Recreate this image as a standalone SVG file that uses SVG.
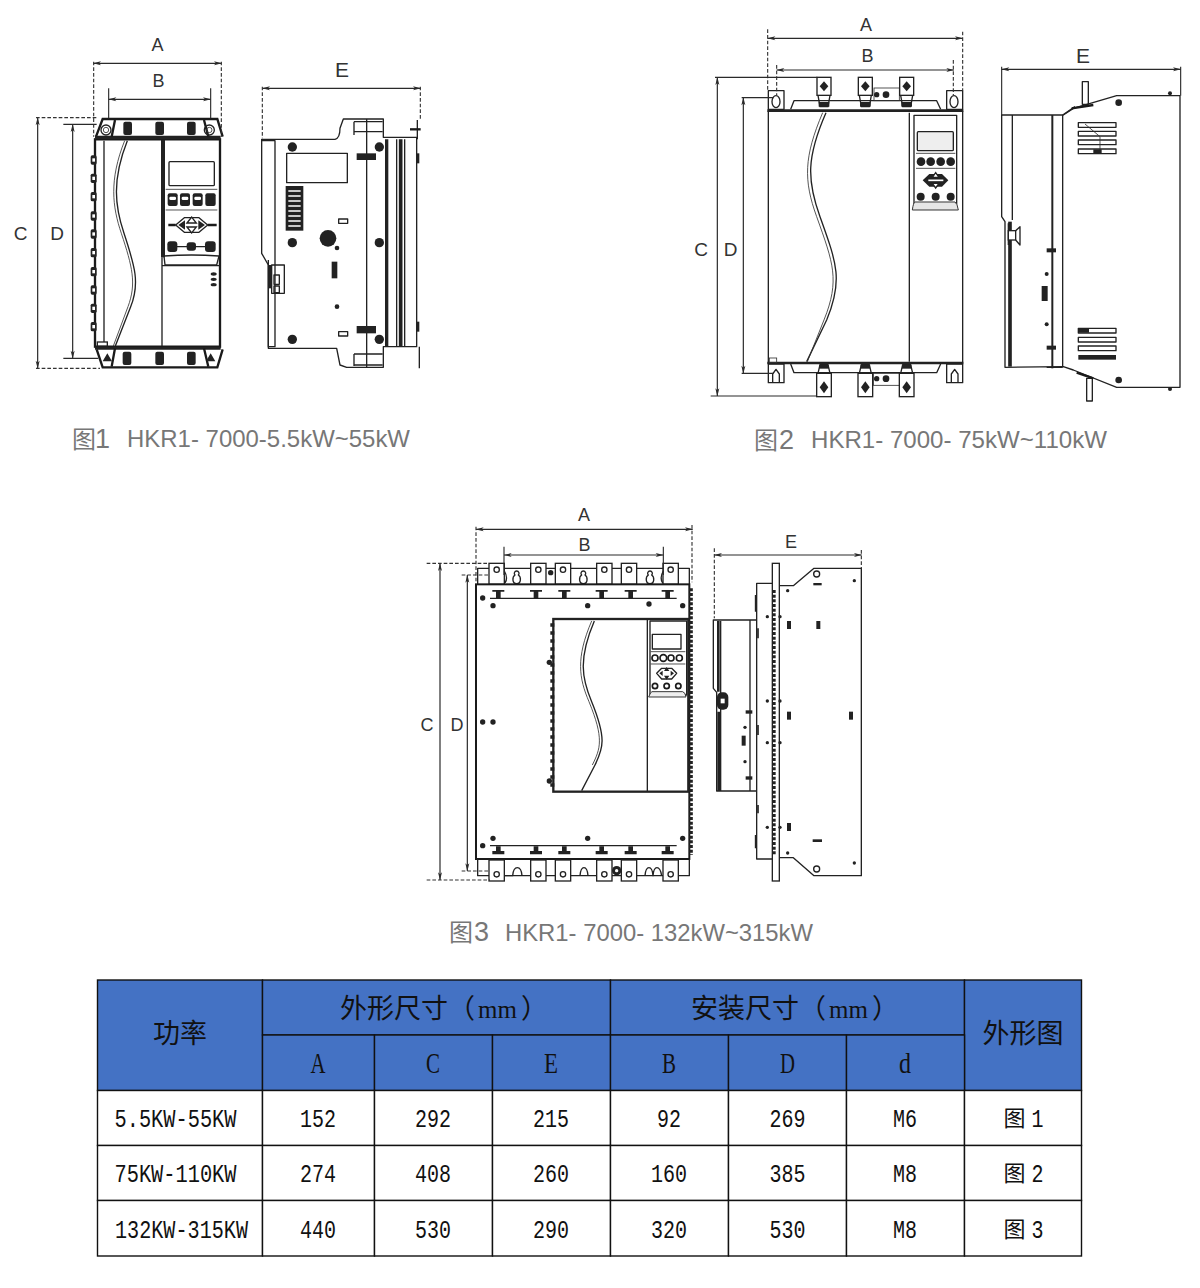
<svg xmlns="http://www.w3.org/2000/svg" width="1200" height="1288" viewBox="0 0 1200 1288">
<style>
.l{fill:none;stroke:#222;stroke-width:4;stroke-linejoin:round}
.t{fill:none;stroke:#333;stroke-width:2.5}
.h{fill:none;stroke:#1a1a1a;stroke-width:7}
.k{fill:#222;stroke:none}
.w{fill:#fff;stroke:#222;stroke-width:4}
.d{fill:none;stroke:#2a2a2a;stroke-width:3.6;marker-start:url(#a);marker-end:url(#b)}
.x{fill:none;stroke:#333;stroke-width:3.4;stroke-dasharray:11 6}
.s{fill:none;stroke:#2a2a2a;stroke-width:3.4}
.lab{font-family:"Liberation Sans",Arial,sans-serif;fill:#333;text-anchor:middle}
.cap{font-family:"Liberation Sans",Arial,sans-serif;font-size:24px;fill:#777}
.capc{font-family:"Noto Sans CJK SC",sans-serif;font-size:24px;fill:#777}
.cell{fill:#fff;stroke:#111;stroke-width:1.4}
.head{fill:#4472C4;stroke:#111;stroke-width:1.4}
.m{font-family:"Liberation Mono",monospace;font-size:26px;fill:#111;text-anchor:middle}
.mh{font-family:"Liberation Serif",serif;font-size:30px;fill:#111;text-anchor:middle}
.c{font-family:"Noto Sans CJK SC",sans-serif;font-size:27px;fill:#111;text-anchor:middle}
.cs{font-family:"Noto Sans CJK SC",sans-serif;font-size:27px;fill:#111}
.mm{font-family:"Liberation Serif",serif;font-size:25px}
.c2{font-family:"Noto Sans CJK SC",sans-serif;font-size:22px;fill:#111;text-anchor:middle}
</style>
<defs>
<marker id="a" markerUnits="userSpaceOnUse" markerWidth="26" markerHeight="14" refX="1" refY="7" orient="auto"><path d="M0,7L24,1L18,7L24,13Z" fill="#2a2a2a"/></marker>
<marker id="b" markerUnits="userSpaceOnUse" markerWidth="26" markerHeight="14" refX="25" refY="7" orient="auto"><path d="M26,7L2,1L8,7L2,13Z" fill="#2a2a2a"/></marker>
<g id="bolt"><rect x="-9" y="-14" width="18" height="28" rx="5" class="k"/><rect x="-4" y="-5" width="8" height="10" fill="#fff"/></g>
<g id="term2"><rect x="-21" y="0" width="42" height="54" class="w"/><path d="M0,12L13,27L0,42L-13,27Z" class="k"/><path d="M-18,54L-12,88H12L18,54" class="l"/><rect x="-16" y="74" width="32" height="14" class="k"/></g>
<g id="term2b"><rect x="-22" y="26" width="44" height="70" class="w"/><path d="M0,50L13,68L0,86L-13,68Z" class="k"/><path d="M-18,26L-12,0H12L18,26" class="l"/><rect x="-14" y="0" width="28" height="12" class="k"/></g>
<g id="term3"><rect x="-23" y="0" width="46" height="63" class="w"/><circle cx="0" cy="19" r="8" class="l"/></g>
<g id="term3b"><rect x="-23" y="0" width="46" height="63" class="w"/><circle cx="0" cy="43" r="8" class="l"/></g>
<g id="clip"><path d="M-18,0H18V5H7V24H-7V5H-18Z" class="k"/></g>
<g id="clipb"><path d="M-18,24H18V14H7V0H-7V14H-18Z" class="k"/></g>
<g id="key"><path d="M0,-20A7,7 0 0 1 5,-8C14,-2 14,18 0,18C-14,18 -14,-2 -5,-8A7,7 0 0 1 0,-20Z" class="l"/></g>
<g id="nav"><path d="M-48,0L-22,-22H22L48,0L22,22H-22Z" class="l"/><path d="M-14,-6L0,-24L14,-6ZM-14,6L0,24L14,6Z" class="w"/><path d="M-40,0L-20,-14V14ZM40,0L20,-14V14Z" class="k"/></g>
</defs>

<g id="fig1-front" transform="translate(0,20) scale(.33333)">
<path d="M288,350L308,297H652L668,350" class="h"/>
<path d="M285,352H662" stroke="#222" stroke-width="9" fill="none"/>
<path d="M345,300L335,350M612,300L625,350" class="h"/>
<circle cx="318" cy="330" r="15" class="l"/><circle cx="318" cy="330" r="8" class="t"/>
<circle cx="628" cy="330" r="15" class="l"/><circle cx="628" cy="330" r="8" class="t"/>
<rect x="370" y="305" width="26" height="40" rx="6" class="k"/><rect x="466" y="305" width="26" height="40" rx="6" class="k"/><rect x="561" y="305" width="26" height="40" rx="6" class="k"/>
<rect x="285" y="358" width="375" height="622" class="h"/>
<use href="#bolt" x="281" y="420"/><use href="#bolt" x="281" y="475"/><use href="#bolt" x="281" y="530"/><use href="#bolt" x="281" y="588"/><use href="#bolt" x="281" y="642"/><use href="#bolt" x="281" y="698"/><use href="#bolt" x="281" y="755"/><use href="#bolt" x="281" y="810"/><use href="#bolt" x="281" y="865"/><use href="#bolt" x="281" y="920"/>
<path d="M312,362V972" class="l"/>
<path d="M382,362C335,480 345,560 372,640C405,740 420,790 392,860L346,978" class="l"/>
<path d="M374,362C327,480 337,560 364,640C397,740 410,790 384,860L340,978" class="t"/>
<path d="M489,360V712" stroke="#222" stroke-width="12" fill="none"/><path d="M486,712V978" class="l"/>
<rect x="507" y="425" width="136" height="72" rx="3" class="l"/>
<path d="M497,508H652M497,570H652" class="t"/>
<rect x="503" y="520" width="30" height="38" rx="6" class="k"/><rect x="540" y="520" width="30" height="38" rx="6" class="k"/><rect x="578" y="520" width="30" height="38" rx="6" class="k"/><rect x="616" y="520" width="31" height="38" rx="6" class="k"/>
<rect x="508" y="530" width="20" height="10" rx="4" fill="#fff"/><rect x="545" y="530" width="20" height="10" rx="4" fill="#fff"/><rect x="583" y="530" width="20" height="10" rx="4" fill="#fff"/>
<use href="#nav" x="575" y="615"/><path d="M505,615H527M623,615H650" class="h"/>
<path d="M518,680H630" class="l"/>
<rect x="502" y="664" width="30" height="32" rx="9" class="k"/><rect x="560" y="667" width="28" height="25" rx="9" class="k"/><rect x="615" y="664" width="32" height="32" rx="9" class="k"/>
<path d="M492,708Q575,702 657,708L650,735H495Z" class="l"/><path d="M486,737H660" class="l"/>
<ellipse cx="641" cy="762" rx="9" ry="5" class="k"/><ellipse cx="641" cy="778" rx="9" ry="5" class="k"/><ellipse cx="641" cy="794" rx="9" ry="5" class="k"/>
<rect x="292" y="966" width="30" height="12" class="w"/>
<path d="M290,988L308,1042H652L668,988" class="h"/>
<path d="M285,985H662" stroke="#222" stroke-width="8" fill="none"/>
<path d="M345,985L335,1040M612,985L625,1040" class="h"/>
<path d="M322,1000L308,1024H336ZM632,1000L618,1024H646Z" class="k"/>
<rect x="368" y="995" width="26" height="40" rx="6" class="k"/><rect x="466" y="995" width="26" height="40" rx="6" class="k"/><rect x="561" y="995" width="26" height="40" rx="6" class="k"/>
</g>

<g id="fig1-side" transform="translate(0,20) scale(.33333)">
<path d="M785,358H1005Q1020,355 1020,325L1030,297H1150V352H1250V980H1150V1042H1040L1020,1035L1010,985H805V735L785,700V358Z" class="l"/>
<path d="M805,720V980H825V362H785" class="l"/>
<path d="M1062,305H1148M1062,335H1148M1062,305V345M1100,297V1042M1062,1002H1148M1062,1035H1148M1062,1002V1038" class="l"/>
<path d="M1160,358V980" stroke="#222" stroke-width="10" fill="none"/><path d="M1190,358V980M1214,358V980" class="l"/><path d="M1202,358V980" stroke="#222" stroke-width="11" fill="none"/>
<path d="M1252,300V358M1258,980V1045" class="l"/><path d="M1230,328H1262" class="h"/><rect x="1248" y="400" width="10" height="30" class="k"/><rect x="1248" y="905" width="10" height="30" class="k"/>
<circle cx="877" cy="381" r="14" class="k"/><circle cx="1138" cy="381" r="14" class="k"/><circle cx="877" cy="668" r="14" class="k"/><circle cx="1138" cy="668" r="14" class="k"/><circle cx="877" cy="958" r="14" class="k"/><circle cx="1138" cy="958" r="14" class="k"/>
<circle cx="984" cy="655" r="25" class="k"/><circle cx="1011" cy="684" r="7" class="k"/><circle cx="1011" cy="860" r="7" class="k"/>
<rect x="860" y="400" width="182" height="88" class="l"/>
<rect x="857" y="498" width="53" height="134" class="k"/>
<path d="M865,513H902M865,528H902M865,543H902M865,558H902M865,573H902M865,588H902M865,603H902M865,618H902" stroke="#fff" stroke-width="5" fill="none"/>
<rect x="1016" y="597" width="27" height="13" class="l"/><rect x="1016" y="935" width="27" height="13" class="l"/>
<rect x="995" y="725" width="17" height="50" class="k"/>
<rect x="1070" y="400" width="58" height="20" class="k"/><rect x="1070" y="918" width="58" height="22" class="k"/>
<rect x="815" y="735" width="38" height="85" class="l"/><rect x="822" y="765" width="16" height="28" class="l"/><rect x="822" y="798" width="16" height="20" class="l"/><rect x="804" y="735" width="12" height="70" class="k"/>
</g>

<g id="fig2-front" transform="translate(680,0) scale(.33333)">
<rect x="265" y="272" width="47" height="56" class="l"/><rect x="800" y="272" width="48" height="56" class="l"/>
<ellipse cx="288" cy="305" rx="12" ry="18" class="l"/><ellipse cx="822" cy="305" rx="12" ry="18" class="l"/>
<path d="M332,328L342,302H770L782,328" class="l"/>
<rect x="582" y="264" width="76" height="38" class="t"/><circle cx="590" cy="284" r="8" class="k"/><circle cx="618" cy="284" r="10" class="k"/>
<use href="#term2" x="432" y="232"/><use href="#term2" x="556" y="232"/><use href="#term2" x="680" y="232"/>
<rect x="265" y="333" width="583" height="757" class="l"/>
<path d="M262,332H850M262,1089H850" stroke="#222" stroke-width="8" fill="none"/>
<path d="M438,338C380,470 380,540 420,650C470,790 490,840 440,960L380,1085" class="l"/>
<path d="M428,338C372,470 370,540 410,650C460,790 480,840 432,960L382,1085" class="t"/>
<path d="M688,338V1085" class="l"/>
<path d="M702,346H830V612H702Z" class="l"/>
<rect x="712" y="395" width="108" height="57" rx="3" class="l" style="fill:#eee"/>
<path d="M708,460H826M708,505H826" class="t"/>
<circle cx="723" cy="485" r="13" class="k"/><circle cx="752" cy="485" r="13" class="k"/><circle cx="782" cy="485" r="13" class="k"/><circle cx="812" cy="485" r="13" class="k"/>
<path d="M728,541L748,522H786L805,541L786,560H748Z" class="k"/><path d="M757,532L767,518L777,532ZM757,550L767,564L777,550Z" class="w"/><path d="M745,541H790" stroke="#fff" stroke-width="5"/>
<circle cx="722" cy="590" r="12" class="k"/><circle cx="767" cy="590" r="12" class="k"/><circle cx="812" cy="590" r="12" class="k"/>
<path d="M697,630Q700,608 705,606H825Q832,610 835,630Z" fill="#e6e6e6" stroke="#333" stroke-width="3"/>
<rect x="268" y="1074" width="22" height="14" class="t"/>
<rect x="265" y="1092" width="47" height="56" class="l"/><rect x="800" y="1092" width="48" height="56" class="l"/>
<path d="M278,1148V1122L288,1108L298,1122V1148M814,1148V1122L824,1108L834,1122V1148" class="l"/>
<path d="M332,1092L342,1118H770L782,1092" class="l"/>
<rect x="580" y="1120" width="80" height="36" class="t"/><circle cx="590" cy="1136" r="8" class="k"/><circle cx="618" cy="1136" r="10" class="k"/>
<use href="#term2b" x="432" y="1094"/><use href="#term2b" x="556" y="1094"/><use href="#term2b" x="680" y="1094"/>
</g>

<g id="fig2-side" transform="translate(680,0) scale(.33333)">
<path d="M965,345H1150L1180,325L1310,287H1500V1162H1310L1180,1110L1150,1100L975,1102V665L965,650Z" class="l"/>
<path d="M997,345V660M1148,345V1100M1148,345L1185,320M1100,1102H1148" class="l"/>
<path d="M1117,345V1105" stroke="#222" stroke-width="6" fill="none"/><path d="M990,665V1100" stroke="#222" stroke-width="11" fill="none"/>
<rect x="1207" y="245" width="18" height="68" class="l"/><rect x="1220" y="1135" width="17" height="68" class="l"/>
<path d="M1175,325L1240,315M1190,1118L1240,1135" class="h"/>
<circle cx="1316" cy="308" r="10" class="k"/><circle cx="1316" cy="1140" r="10" class="k"/><circle cx="1470" cy="280" r="6" class="k"/><circle cx="1470" cy="1167" r="6" class="k"/>
<rect x="1195" y="368" width="113" height="14" class="l"/><rect x="1195" y="394" width="113" height="14" class="l"/><rect x="1195" y="420" width="113" height="14" class="l"/><rect x="1195" y="447" width="113" height="14" class="l"/>
<path d="M1215,372L1260,410V460" class="t"/><rect x="1240" y="448" width="25" height="12" class="k"/>
<rect x="1195" y="985" width="113" height="14" class="l"/><rect x="1195" y="1012" width="113" height="14" class="l"/><rect x="1195" y="1038" width="113" height="14" class="l"/><rect x="1195" y="1065" width="113" height="14" class="k"/>
<rect x="1197" y="986" width="30" height="12" class="k"/>
<rect x="985" y="692" width="22" height="28" class="w"/><path d="M985,670V735M1007,692L1020,680V735L1007,720" class="l"/>
<rect x="1100" y="745" width="28" height="12" class="k"/><rect x="1100" y="1037" width="28" height="12" class="k"/>
<circle cx="1100" cy="822" r="6" class="k"/><circle cx="1100" cy="973" r="6" class="k"/>
<rect x="1085" y="858" width="18" height="45" class="k"/>
</g>

<g id="fig3-front" transform="translate(410,495) scale(.33333)">
<path d="M203,268V220H838V268" class="l"/>
<use href="#term3" x="260" y="205"/><use href="#term3" x="385" y="205"/><use href="#term3" x="459" y="205"/><use href="#term3" x="583" y="205"/><use href="#term3" x="657" y="205"/><use href="#term3" x="782" y="205"/>
<use href="#key" x="320" y="248"/><use href="#key" x="520" y="248"/><use href="#key" x="720" y="248"/>
<path d="M283,228Q295,248 285,264M760,228Q748,248 758,264" class="l"/>
<circle cx="422" cy="233" r="8" class="k"/>
<rect x="198" y="268" width="640" height="824" class="h" style="stroke-width:6"/>
<path d="M843,280V1080" stroke="#222" stroke-width="11" stroke-dasharray="9 5" fill="none"/>
<use href="#clip" x="265" y="285"/><use href="#clip" x="378" y="285"/><use href="#clip" x="463" y="285"/><use href="#clip" x="575" y="285"/><use href="#clip" x="662" y="285"/><use href="#clip" x="773" y="285"/>
<path d="M240,310H800M240,1052H800" stroke="#222" stroke-width="4" fill="none"/>
<circle cx="218" cy="309" r="8" class="k"/><circle cx="249" cy="332" r="8" class="k"/><circle cx="533" cy="332" r="8" class="k"/><circle cx="717" cy="327" r="8" class="k"/><circle cx="818" cy="332" r="8" class="k"/>
<circle cx="218" cy="681" r="8" class="k"/><circle cx="249" cy="681" r="8" class="k"/>
<circle cx="249" cy="1030" r="8" class="k"/><circle cx="533" cy="1030" r="8" class="k"/><circle cx="818" cy="1030" r="8" class="k"/><circle cx="218" cy="1052" r="8" class="k"/>
<use href="#clipb" x="265" y="1054"/><use href="#clipb" x="378" y="1054"/><use href="#clipb" x="463" y="1054"/><use href="#clipb" x="575" y="1054"/><use href="#clipb" x="662" y="1054"/><use href="#clipb" x="773" y="1054"/>
<path d="M203,1092V1142H838V1092" class="l"/>
<path d="M283,1142H308Q310,1118 322,1118Q334,1118 336,1142M510,1142Q512,1118 522,1118Q532,1118 534,1142M705,1142Q707,1118 717,1118Q727,1118 729,1142Q731,1118 741,1118Q751,1118 755,1142" class="l"/>
<use href="#term3b" x="260" y="1095"/><use href="#term3b" x="385" y="1095"/><use href="#term3b" x="459" y="1095"/><use href="#term3b" x="583" y="1095"/><use href="#term3b" x="657" y="1095"/><use href="#term3b" x="782" y="1095"/>
<circle cx="620" cy="1127" r="14" class="k"/><circle cx="620" cy="1127" r="5" fill="#fff"/>
<rect x="430" y="372" width="405" height="518" class="w" style="stroke-width:7"/>
<path d="M427,385V880" stroke="#222" stroke-width="12" stroke-dasharray="10 14" fill="none"/><circle cx="418" cy="502" r="8" class="k"/><circle cx="418" cy="858" r="8" class="k"/>
<path d="M712,374V888" class="l"/>
<path d="M553,378C505,490 515,550 545,620C590,730 580,760 555,810L515,887" class="l"/>
<path d="M545,378C497,490 507,550 537,620C582,730 572,760 547,810" class="t"/>
<path d="M720,378H830V600H720Z" class="l"/>
<rect x="727" y="418" width="86" height="44" class="l"/>
<path d="M722,470H826M722,507H826" class="t"/>
<circle cx="735" cy="489" r="9" class="h" style="stroke-width:5"/><circle cx="760" cy="489" r="10" class="h" style="stroke-width:5"/><circle cx="783" cy="489" r="9" class="h" style="stroke-width:5"/><circle cx="808" cy="489" r="9" class="h" style="stroke-width:5"/>
<path d="M740,535L755,520H785L800,535L785,552H755Z" class="l"/><path d="M762,528L770,516L778,528ZM762,542L770,554L778,542ZM748,535L758,527V543ZM792,535L782,527V543Z" class="k"/>
<circle cx="735" cy="573" r="8" class="h" style="stroke-width:5"/><circle cx="770" cy="573" r="8" class="h" style="stroke-width:5"/><circle cx="805" cy="573" r="8" class="h" style="stroke-width:5"/>
<path d="M716,606Q722,590 726,590H818Q826,592 828,606Z" fill="#eee" stroke="#333" stroke-width="3"/>
</g>

<g id="fig3-side" transform="translate(410,495) scale(.33333)">
<path d="M1040,375H910V580L920,592V888H1040" class="l"/>
<path d="M1020,375V888M932,378V888" class="l"/><path d="M925,378V590M926,650V888" stroke="#222" stroke-width="8" fill="none"/>
<rect x="921" y="592" width="34" height="52" rx="14" class="k"/><rect x="932" y="611" width="12" height="14" fill="#fff"/>
<rect x="1007" y="646" width="20" height="10" class="k"/><rect x="1007" y="844" width="20" height="10" class="k"/>
<circle cx="1005" cy="697" r="5" class="k"/><circle cx="1005" cy="800" r="5" class="k"/><rect x="995" y="722" width="12" height="30" class="k"/>
<rect x="1040" y="265" width="50" height="827" class="l"/>
<path d="M1037,300V350M1044,400V430M1044,690V720M1044,930V955M1037,1020V1060" stroke="#222" stroke-width="5" fill="none"/>
<rect x="1087" y="205" width="21" height="953" class="w"/>
<path d="M1092,285V1082" stroke="#222" stroke-width="10" stroke-dasharray="9 5" fill="none"/>
<path d="M1108,272H1150L1212,220H1354V1142H1212L1150,1088H1108" class="l"/>
<circle cx="1220" cy="237" r="9" class="l"/><circle cx="1220" cy="1122" r="9" class="l"/>
<circle cx="1133" cy="287" r="5" class="k"/><circle cx="1333" cy="257" r="5" class="k"/><circle cx="1133" cy="1074" r="5" class="k"/><circle cx="1333" cy="1104" r="5" class="k"/>
<circle cx="1072" cy="365" r="5" class="k"/><circle cx="1110" cy="365" r="5" class="k"/><circle cx="1072" cy="618" r="5" class="k"/><circle cx="1110" cy="618" r="5" class="k"/><circle cx="1072" cy="743" r="5" class="k"/><circle cx="1110" cy="743" r="5" class="k"/><circle cx="1072" cy="997" r="5" class="k"/><circle cx="1110" cy="997" r="5" class="k"/>
<rect x="1131" y="378" width="12" height="24" class="k"/><rect x="1219" y="378" width="12" height="24" class="k"/><rect x="1131" y="650" width="12" height="24" class="k"/><rect x="1317" y="650" width="12" height="24" class="k"/><rect x="1131" y="984" width="12" height="24" class="k"/>
<rect x="1210" y="264" width="25" height="7" class="k"/><rect x="1208" y="1033" width="28" height="8" class="k"/>
</g>

<g id="connectors">
<g transform="translate(0,20) scale(.33333)">
<path d="M280,130H665" class="d"/><path d="M326,238H632" class="d"/><path d="M113,293V1045" class="d"/><path d="M218,313V1015" class="d"/><path d="M787,205H1262" class="d"/>
<path d="M281,125V350M664,125V350M787,200V355M1261,200V300M108,293H290M108,1045H300" class="x"/>
<path d="M326,205V295M632,205V295M190,313H290M190,1015H295" class="s"/>
</g>
<g transform="translate(680,0) scale(.33333)">
<path d="M263,115H848" class="d"/><path d="M290,210H822" class="d"/><path d="M112,232V1188" class="d"/><path d="M190,293V1120" class="d"/><path d="M965,208H1502" class="d"/>
<path d="M263,88V272M848,95V272M290,195V285M820,180V285" class="x"/>
<path d="M105,232H412M92,1188H410M185,293H280M185,1120H280M965,200V345M1502,200V287" class="s"/>
</g>
<g transform="translate(410,495) scale(.33333)">
<path d="M198,103H848" class="d"/><path d="M282,180H760" class="d"/><path d="M90,205V1155" class="d"/><path d="M172,240V1128" class="d"/><path d="M913,180H1355" class="d"/>
<path d="M198,95V262M846,90V262M50,205H237M50,1155H240M155,240H240M155,1128H240M913,160V370M1354,165V220" class="x"/>
<path d="M282,155V240M760,155V240" class="s"/>
</g>
</g>

<g id="labels">
<text class="lab" x="157.500" y="51" font-size="18">A</text><text class="lab" x="158.500" y="87" font-size="18">B</text><text class="lab" x="20.500" y="240" font-size="19">C</text><text class="lab" x="57" y="240" font-size="19">D</text><text class="lab" x="342" y="77" font-size="21">E</text>
<text class="lab" x="866" y="31" font-size="18">A</text><text class="lab" x="867.500" y="62" font-size="18">B</text><text class="lab" x="701" y="256" font-size="19">C</text><text class="lab" x="730.500" y="256" font-size="19">D</text><text class="lab" x="1083" y="63" font-size="21">E</text>
<text class="lab" x="584" y="521" font-size="18">A</text><text class="lab" x="584.500" y="551" font-size="18">B</text><text class="lab" x="427" y="731" font-size="18">C</text><text class="lab" x="457" y="731" font-size="18">D</text><text class="lab" x="791" y="548" font-size="18">E</text>
<text class="capc" x="72" y="448">图</text><text class="cap" x="95" y="448" style="font-size:27px">1</text><text class="cap" x="127" y="447" textLength="283" lengthAdjust="spacingAndGlyphs">HKR1- 7000-5.5kW~55kW</text>
<text class="capc" x="754" y="449">图</text><text class="cap" x="779" y="449" style="font-size:27px">2</text><text class="cap" x="811" y="448" textLength="296" lengthAdjust="spacingAndGlyphs">HKR1- 7000- 75kW~110kW</text>
<text class="capc" x="449" y="941">图</text><text class="cap" x="474" y="941" style="font-size:27px">3</text><text class="cap" x="505" y="941" textLength="308" lengthAdjust="spacingAndGlyphs">HKR1- 7000- 132kW~315kW</text>
</g>

<g id="table">
<g id="header">
<rect class="head" x="97.500" y="980" width="165" height="110.500"/><rect class="head" x="262.500" y="980" width="348" height="55"/><rect class="head" x="610.500" y="980" width="354" height="55"/><rect class="head" x="964.500" y="980" width="117" height="110.500"/>
<rect class="head" x="262.500" y="1035" width="112" height="55.500"/><rect class="head" x="374.500" y="1035" width="118" height="55.500"/><rect class="head" x="492.500" y="1035" width="118" height="55.500"/><rect class="head" x="610.500" y="1035" width="118" height="55.500"/><rect class="head" x="728.500" y="1035" width="118" height="55.500"/><rect class="head" x="846.500" y="1035" width="118" height="55.500"/>
<text class="c" x="180" y="1043">功率</text><text class="c" x="1023" y="1043">外形图</text>
<text class="cs" x="340" y="1018">外形尺寸（<tspan class="mm" dx="3">mm</tspan><tspan dx="4">）</tspan></text>
<text class="cs" x="691" y="1018">安装尺寸（<tspan class="mm" dx="3">mm</tspan><tspan dx="4">）</tspan></text>
<text class="mh" x="318" y="1073" textLength="15" lengthAdjust="spacingAndGlyphs">A</text><text class="mh" x="433" y="1073" textLength="14" lengthAdjust="spacingAndGlyphs">C</text><text class="mh" x="551" y="1073" textLength="14" lengthAdjust="spacingAndGlyphs">E</text><text class="mh" x="669" y="1073" textLength="14" lengthAdjust="spacingAndGlyphs">B</text><text class="mh" x="787.500" y="1073" textLength="15" lengthAdjust="spacingAndGlyphs">D</text><text class="mh" x="905" y="1073" textLength="12" lengthAdjust="spacingAndGlyphs">d</text>
</g>
<g id="row1">
<rect class="cell" x="97.500" y="1090.500" width="165" height="55"/><rect class="cell" x="262.500" y="1090.500" width="112" height="55"/><rect class="cell" x="374.500" y="1090.500" width="118" height="55"/><rect class="cell" x="492.500" y="1090.500" width="118" height="55"/><rect class="cell" x="610.500" y="1090.500" width="118" height="55"/><rect class="cell" x="728.500" y="1090.500" width="118" height="55"/><rect class="cell" x="846.500" y="1090.500" width="118" height="55"/><rect class="cell" x="964.500" y="1090.500" width="117" height="55"/>
<text class="m" x="175.500" y="1127" textLength="122" lengthAdjust="spacingAndGlyphs">5.5KW-55KW</text><text class="m" x="318" y="1127" textLength="36" lengthAdjust="spacingAndGlyphs">152</text><text class="m" x="433" y="1127" textLength="36" lengthAdjust="spacingAndGlyphs">292</text><text class="m" x="551" y="1127" textLength="36" lengthAdjust="spacingAndGlyphs">215</text><text class="m" x="669" y="1127" textLength="24" lengthAdjust="spacingAndGlyphs">92</text><text class="m" x="787.500" y="1127" textLength="36" lengthAdjust="spacingAndGlyphs">269</text><text class="m" x="905" y="1127" textLength="24" lengthAdjust="spacingAndGlyphs">M6</text><text class="c2" x="1014.500" y="1126">图</text><text class="m" x="1037.500" y="1127" textLength="12" lengthAdjust="spacingAndGlyphs">1</text>
</g>
<g id="row2">
<rect class="cell" x="97.500" y="1145.500" width="165" height="55"/><rect class="cell" x="262.500" y="1145.500" width="112" height="55"/><rect class="cell" x="374.500" y="1145.500" width="118" height="55"/><rect class="cell" x="492.500" y="1145.500" width="118" height="55"/><rect class="cell" x="610.500" y="1145.500" width="118" height="55"/><rect class="cell" x="728.500" y="1145.500" width="118" height="55"/><rect class="cell" x="846.500" y="1145.500" width="118" height="55"/><rect class="cell" x="964.500" y="1145.500" width="117" height="55"/>
<text class="m" x="175.500" y="1182" textLength="122" lengthAdjust="spacingAndGlyphs">75KW-110KW</text><text class="m" x="318" y="1182" textLength="36" lengthAdjust="spacingAndGlyphs">274</text><text class="m" x="433" y="1182" textLength="36" lengthAdjust="spacingAndGlyphs">408</text><text class="m" x="551" y="1182" textLength="36" lengthAdjust="spacingAndGlyphs">260</text><text class="m" x="669" y="1182" textLength="36" lengthAdjust="spacingAndGlyphs">160</text><text class="m" x="787.500" y="1182" textLength="36" lengthAdjust="spacingAndGlyphs">385</text><text class="m" x="905" y="1182" textLength="24" lengthAdjust="spacingAndGlyphs">M8</text><text class="c2" x="1014.500" y="1181">图</text><text class="m" x="1037.500" y="1182" textLength="12" lengthAdjust="spacingAndGlyphs">2</text>
</g>
<g id="row3">
<rect class="cell" x="97.500" y="1200.500" width="165" height="55.500"/><rect class="cell" x="262.500" y="1200.500" width="112" height="55.500"/><rect class="cell" x="374.500" y="1200.500" width="118" height="55.500"/><rect class="cell" x="492.500" y="1200.500" width="118" height="55.500"/><rect class="cell" x="610.500" y="1200.500" width="118" height="55.500"/><rect class="cell" x="728.500" y="1200.500" width="118" height="55.500"/><rect class="cell" x="846.500" y="1200.500" width="118" height="55.500"/><rect class="cell" x="964.500" y="1200.500" width="117" height="55.500"/>
<text class="m" x="181.500" y="1238" textLength="133" lengthAdjust="spacingAndGlyphs">132KW-315KW</text><text class="m" x="318" y="1238" textLength="36" lengthAdjust="spacingAndGlyphs">440</text><text class="m" x="433" y="1238" textLength="36" lengthAdjust="spacingAndGlyphs">530</text><text class="m" x="551" y="1238" textLength="36" lengthAdjust="spacingAndGlyphs">290</text><text class="m" x="669" y="1238" textLength="36" lengthAdjust="spacingAndGlyphs">320</text><text class="m" x="787.500" y="1238" textLength="36" lengthAdjust="spacingAndGlyphs">530</text><text class="m" x="905" y="1238" textLength="24" lengthAdjust="spacingAndGlyphs">M8</text><text class="c2" x="1014.500" y="1237">图</text><text class="m" x="1037.500" y="1238" textLength="12" lengthAdjust="spacingAndGlyphs">3</text>
</g>
</g>
</svg>
